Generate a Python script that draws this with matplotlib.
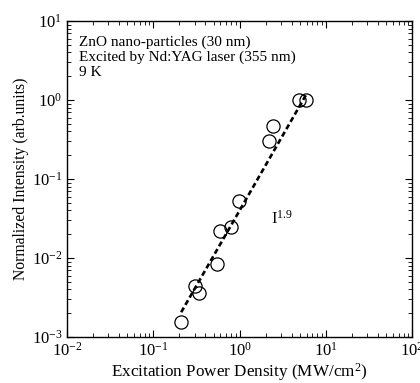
import numpy as np
import matplotlib
matplotlib.use("Agg")
import matplotlib.pyplot as plt
from matplotlib.ticker import LogLocator, NullFormatter

plt.rcParams['font.family'] = 'serif'
plt.rcParams['font.serif'] = ['Liberation Serif', 'DejaVu Serif']
plt.rcParams['mathtext.fontset'] = 'custom'
plt.rcParams['mathtext.rm'] = 'Liberation Serif'
plt.rcParams['mathtext.it'] = 'Liberation Serif:italic'

# measured points
power = [0.21, 0.305, 0.342, 0.553, 0.594, 0.796, 0.995, 2.18, 2.44, 4.9, 5.9]
intensity = [0.00153, 0.00446, 0.00364, 0.0083, 0.022, 0.0249, 0.0523, 0.305, 0.464, 1.0, 1.0]

# power-law fit I^1.9
fit_exp = 1.9
fit_amp = 0.040
fit_range = [0.21, 5.9]

fig = plt.figure(figsize=(4.2, 3.83), dpi=100)
ax = fig.add_axes([0.160, 0.120, 0.821, 0.825])

xf = np.logspace(np.log10(fit_range[0]), np.log10(fit_range[1]), 50)
ax.plot(xf, fit_amp * xf ** fit_exp, color='k', lw=1.9, ls=(0, (2.0, 1.2)))
ax.plot(power, intensity, 'o', mfc='none', mec='k', ms=9.5, mew=0.9)

ax.set_xscale('log')
ax.set_yscale('log')
ax.set_xlim(1e-2, 1e2)
ax.set_ylim(1e-3, 1e1)

ax.xaxis.set_minor_locator(LogLocator(base=10, subs=np.arange(2, 10)))
ax.yaxis.set_minor_locator(LogLocator(base=10, subs=np.arange(2, 10)))
ax.xaxis.set_minor_formatter(NullFormatter())
ax.yaxis.set_minor_formatter(NullFormatter())
ax.tick_params(which='both', direction='in', top=True, right=True, labelsize=12)
ax.tick_params(which='major', length=5, width=0.8)
ax.tick_params(which='minor', length=3, width=0.6)
for s in ax.spines.values():
    s.set_linewidth(1.0)

ax.set_xlabel('Excitation Power Density (MW/cm$^2$)', fontsize=12.3, labelpad=1)
ax.set_ylabel('Normalized Intensity (arb.units)', fontsize=11.3)
ax.yaxis.set_label_coords(-0.11, 0.5)

ax.text(0.035, 0.955, 'ZnO nano-particles (30 nm)\nExcited by Nd:YAG laser (355 nm)\n9 K',
        transform=ax.transAxes, fontsize=11, va='top', ha='left', linespacing=1.2)
ax.text(2.3, 0.027, 'I$^{1.9}$', fontsize=12)

fig.savefig('out.png', dpi=100)
